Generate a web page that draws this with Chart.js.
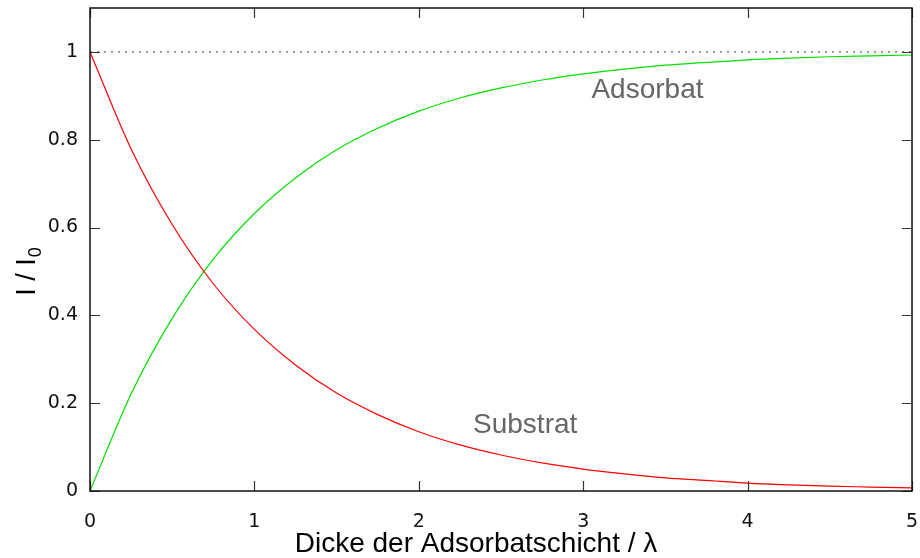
<!DOCTYPE html>
<html lang="de">
<head>
<meta charset="utf-8">
<title>Adsorbat / Substrat</title>
<script src="https://cdn.jsdelivr.net/npm/chart.js@4/dist/chart.umd.min.js"></script>
<style>
  html, body { margin: 0; padding: 0; background: #fff; }
  #wrap { width: 920px; height: 558px; }
</style>
</head>
<body>
<div id="wrap"><canvas id="plot" width="920" height="558"></canvas></div>
<script>
// layer thickness in units of lambda
const thickness = [0, 0.25, 0.5, 0.75, 1, 1.25, 1.5, 1.75, 2, 2.25, 2.5, 2.75,
                   3, 3.25, 3.5, 3.75, 4, 4.25, 4.5, 4.75, 5];
// I/I0 of the substrate signal
const substrat = [1.000, 0.779, 0.607, 0.472, 0.368, 0.287, 0.223, 0.174, 0.135, 0.105, 0.082, 0.064,
                  0.050, 0.039, 0.030, 0.024, 0.018, 0.014, 0.011, 0.009, 0.007];
// I/I0 of the adsorbate signal
const adsorbat = [0.000, 0.221, 0.393, 0.528, 0.632, 0.713, 0.777, 0.826, 0.865, 0.895, 0.918, 0.936,
                  0.950, 0.961, 0.970, 0.976, 0.982, 0.986, 0.989, 0.991, 0.993];
const xTicks = [0, 1, 2, 3, 4, 5];
const yTicks = [0, 0.2, 0.4, 0.6, 0.8, 1];
const refLine = [1, 1];

const toPoints = (xs, ys) => xs.map((x, i) => ({ x: x, y: ys[i] }));

// gnuplot-like frame: box on all four sides, ticks pointing inward and mirrored
const framePlugin = {
    id: 'frame',
    afterDatasetsDraw(chart) {
        const { ctx, chartArea: a, scales } = chart;
        const len = 10;
        ctx.save();
        ctx.strokeStyle = '#333';
        ctx.lineWidth = 1.2;
        ctx.beginPath();
        xTicks.forEach(v => {
            const px = Math.round(scales.x.getPixelForValue(v)) + 0.5;
            ctx.moveTo(px, a.bottom); ctx.lineTo(px, a.bottom - len);
            ctx.moveTo(px, a.top); ctx.lineTo(px, a.top + len);
        });
        yTicks.forEach(v => {
            const py = Math.round(scales.y.getPixelForValue(v)) + 0.5;
            ctx.moveTo(a.left, py); ctx.lineTo(a.left + len, py);
            ctx.moveTo(a.right, py); ctx.lineTo(a.right - len, py);
        });
        ctx.stroke();
        ctx.strokeStyle = '#111';
        ctx.lineWidth = 1.5;
        ctx.strokeRect(a.left, a.top, a.right - a.left, a.bottom - a.top);

        // axis titles
        ctx.fillStyle = '#000';
        ctx.font = '28px "Liberation Sans", Arial, sans-serif';
        ctx.textAlign = 'center';
        ctx.textBaseline = 'alphabetic';
        ctx.fillText('Dicke der Adsorbatschicht / λ', 476, 552);

        ctx.translate(35, 272);
        ctx.rotate(-Math.PI / 2);
        const main = 'I / I';
        ctx.font = '27px "Liberation Sans", Arial, sans-serif';
        const w1 = ctx.measureText(main).width;
        ctx.font = '18px "Liberation Sans", Arial, sans-serif';
        const w2 = ctx.measureText('0').width;
        const start = -(w1 + w2) / 2;
        ctx.textAlign = 'left';
        ctx.font = '27px "Liberation Sans", Arial, sans-serif';
        ctx.fillText(main, start, 0);
        ctx.font = '18px "Liberation Sans", Arial, sans-serif';
        ctx.fillText('0', start + w1 + 1, 6);
        ctx.setTransform(1, 0, 0, 1, 0, 0);

        // curve labels
        ctx.fillStyle = '#666';
        ctx.font = '28px "Liberation Sans", Arial, sans-serif';
        ctx.textAlign = 'left';
        ctx.fillText('Adsorbat', scales.x.getPixelForValue(3.05), scales.y.getPixelForValue(0.894));
        ctx.fillText('Substrat', scales.x.getPixelForValue(2.33), scales.y.getPixelForValue(0.131));
        ctx.restore();
    }
};

new Chart(document.getElementById('plot'), {
    type: 'line',
    data: {
        datasets: [
            {
                label: 'Referenz',
                data: toPoints([0, 5], refLine),
                borderColor: '#666',
                borderWidth: 1.2,
                borderDash: [2, 5],
                pointRadius: 0
            },
            {
                label: 'Substrat',
                data: toPoints(thickness, substrat),
                borderColor: '#ff0000',
                borderWidth: 1.2,
                pointRadius: 0,
                cubicInterpolationMode: 'monotone'
            },
            {
                label: 'Adsorbat',
                data: toPoints(thickness, adsorbat),
                borderColor: '#00e000',
                borderWidth: 1.2,
                pointRadius: 0,
                cubicInterpolationMode: 'monotone'
            }
        ]
    },
    options: {
        responsive: false,
        animation: false,
        layout: { padding: { top: 8, right: 8, left: 0, bottom: 0 } },
        plugins: {
            legend: { display: false },
            tooltip: { enabled: false }
        },
        scales: {
            x: {
                type: 'linear',
                min: 0,
                max: 5,
                afterFit: s => {
                    s.height = 67;
                    s.paddingLeft = 0;
                    s.paddingRight = 0;
                },
                afterBuildTicks: s => { s.ticks = xTicks.map(v => ({ value: v })); },
                grid: { display: false, drawTicks: false },
                border: { display: false },
                ticks: {
                    padding: 20,
                    color: '#111',
                    font: { family: 'DejaVu Sans', size: 19 },
                    callback: v => String(v)
                }
            },
            y: {
                type: 'linear',
                min: 0,
                max: 1.1,
                afterFit: s => {
                    s.width = 90;
                    s.paddingTop = 0;
                    s.paddingBottom = 0;
                },
                afterBuildTicks: s => { s.ticks = yTicks.map(v => ({ value: v })); },
                grid: { display: false, drawTicks: false },
                border: { display: false },
                ticks: {
                    padding: 12,
                    color: '#111',
                    font: { family: 'DejaVu Sans', size: 19 },
                    callback: v => String(v)
                }
            }
        }
    },
    plugins: [framePlugin]
});
</script>
</body>
</html>
